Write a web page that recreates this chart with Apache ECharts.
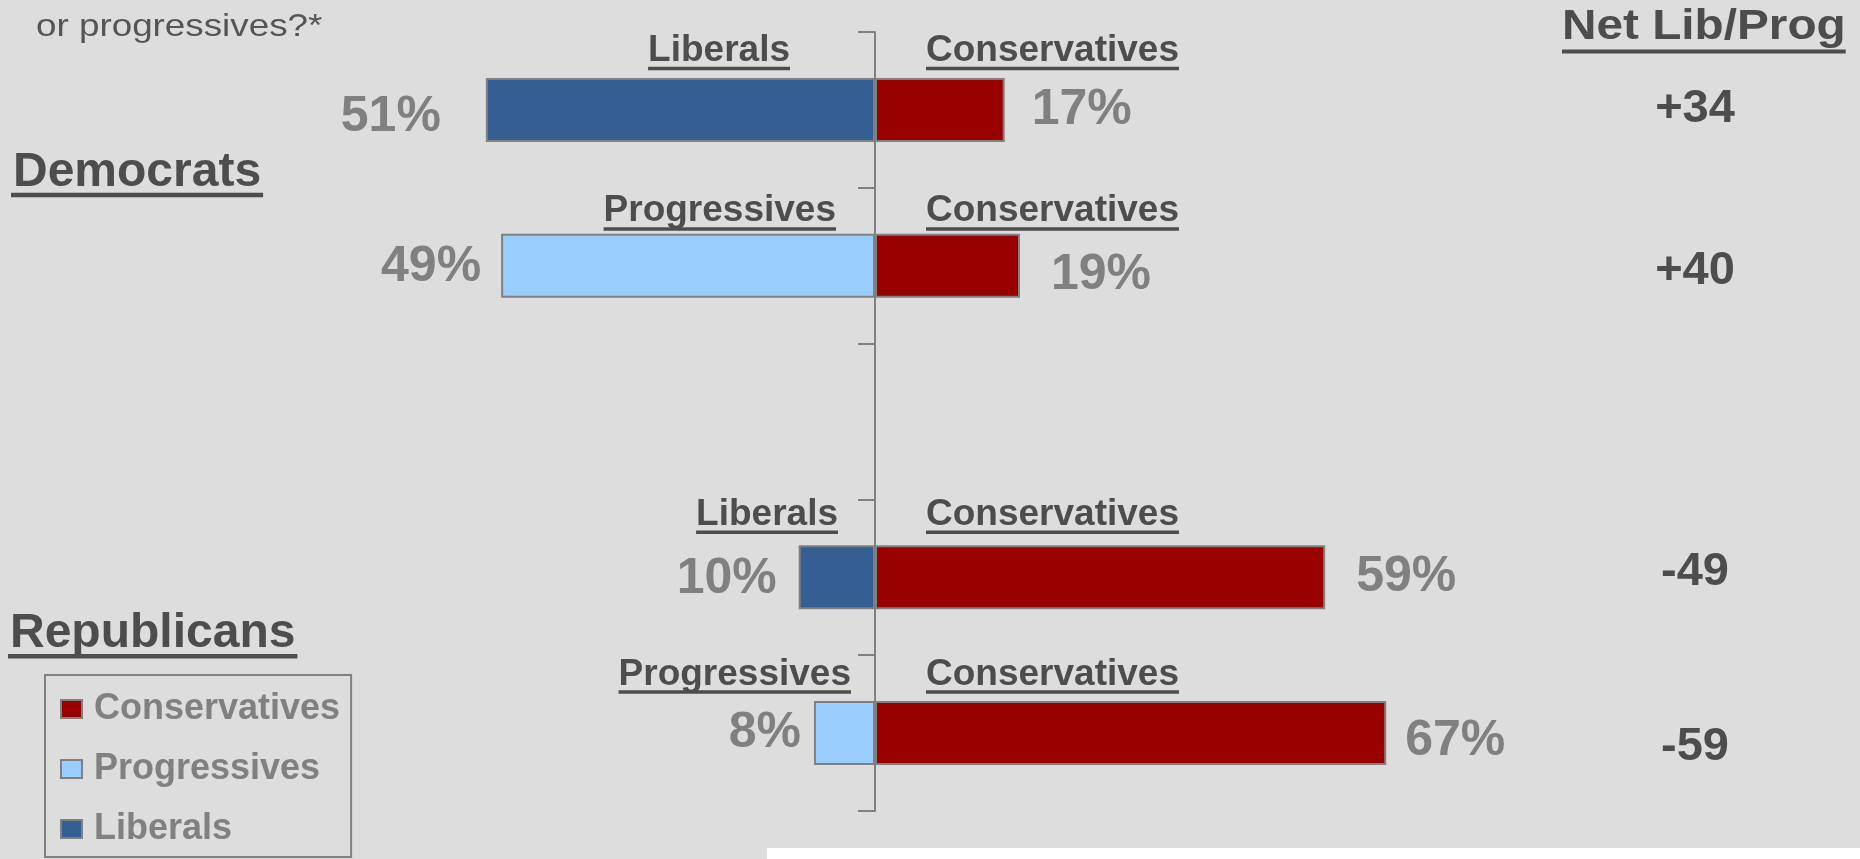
<!DOCTYPE html>
<html><head><meta charset="utf-8">
<script src="https://cdn.jsdelivr.net/npm/echarts@6/dist/echarts.min.js"></script>
<style>html,body{margin:0;padding:0;background:#dddddd;} #c{width:1860px;height:859px;}</style>
</head><body><div id="c"></div>
<script>
// ---- data ----
const categories = ['Democrats: Liberals', 'Democrats: Progressives', '', 'Republicans: Liberals', 'Republicans: Progressives'];
const liberals = [51, null, null, 10, null];
const progressives = [null, 49, null, null, 8];
const conservatives = [17, 19, null, 59, 67];
const netLabels = ['+34', '+40', '-49', '-59'];
const groupLabels = ['Democrats', 'Republicans'];
const leftHeaders = ['Liberals', 'Progressives', 'Liberals', 'Progressives'];
const rightHeader = 'Conservatives';
const netTitle = 'Net Lib/Prog';
const questionTail = 'or progressives?*';
const legendOrder = ['Conservatives', 'Progressives', 'Liberals'];

// ---- style / layout ----
const FONT = '"Liberation Sans", Arial, Helvetica, sans-serif';
const GRAY = '#808080', DARK = '#4d4d4d';
const layout = {
  headerY: [49, 209.5, 512.8, 672.6],
  leftHeaderRight: [790, 836, 838, 851],
  rightHeaderLeft: 926,
  netX: 1695, netY: [107, 268.5, 570, 745],
  groupY: [170.5, 631.7], groupX: [13, 10],
  // per-row label nudges: [distance, dy]
  leftLabel: [[45, 7], [20, 2], null, [22, 2], [13, 0]],
  rightLabel: [[27, 0], [31, 10], null, [31, 0], [19, 8]]
};

const chart = echarts.init(document.getElementById('c'));
const ctx = document.createElement('canvas').getContext('2d');
function textWidth(t, size, weight) { ctx.font = weight + ' ' + size + 'px ' + FONT; return ctx.measureText(t).width; }
function txt(text, x, capY, size, o) {
  o = o || {};
  const weight = o.weight || 'bold', sx = o.scaleX || 1, align = o.align || 'left', color = o.color || DARK;
  const els = [{
    type: 'text', x: x, y: capY + 0.048 * size, scaleX: sx, silent: true,
    style: { text: text, x: 0, y: 0, fill: color, font: weight + ' ' + size + 'px ' + FONT, align: align, verticalAlign: 'middle' }
  }];
  if (o.ul) {
    const w = textWidth(text, size, weight) * sx;
    let left = align === 'right' ? x - w : (align === 'center' ? x - w / 2 : x);
    const pad = o.ul.pad || 0;
    const base = capY + 0.358 * size;
    els.push({ type: 'rect', silent: true, shape: { x: left - pad, y: base + o.ul.off, width: w + 2 * pad, height: o.ul.h }, style: { fill: color } });
  }
  return els;
}

function items(arr, sign, nudges) {
  return arr.map((v, i) => {
    if (v == null) return null;
    const n = nudges[i] || [25, 0];
    return { value: sign * v, label: { distance: n[0], offset: [0, n[1]] } };
  });
}
const labelBase = { show: true, fontSize: 50, fontWeight: 'bold', color: GRAY, fontFamily: FONT };

const option = {
  backgroundColor: '#dddddd',
  animation: false,
  grid: { left: 112, right: 222, top: 32, bottom: 48 },
  xAxis: { type: 'value', min: -100, max: 100, show: false },
  yAxis: {
    type: 'category', inverse: true, data: categories,
    axisLine: { show: true, onZero: true, lineStyle: { color: GRAY, width: 2 } },
    axisTick: { show: true, length: 17, lineStyle: { color: GRAY, width: 2 } },
    axisLabel: { show: false }, splitLine: { show: false }
  },
  legend: {
    orient: 'vertical', left: 45, top: 675, data: legendOrder, icon: 'rect',
    itemWidth: 21, itemHeight: 18, itemGap: 24, padding: [16, 11, 10, 15],
    borderColor: GRAY, borderWidth: 2,
    textStyle: { fontSize: 36, fontWeight: 'bold', color: GRAY, fontFamily: FONT, padding: [0, 0, 0, 7] }
  },
  series: [
    { name: 'Liberals', type: 'bar', stack: 's', barWidth: 64, data: items(liberals, -1, layout.leftLabel),
      itemStyle: { color: '#355E95', borderColor: GRAY, borderWidth: 2 },
      label: Object.assign({}, labelBase, { position: 'left', formatter: p => Math.abs(p.value) + '%' }) },
    { name: 'Progressives', type: 'bar', stack: 's', barWidth: 64, data: items(progressives, -1, layout.leftLabel),
      itemStyle: { color: '#99CCFF', borderColor: GRAY, borderWidth: 2 },
      label: Object.assign({}, labelBase, { position: 'left', formatter: p => Math.abs(p.value) + '%' }) },
    { name: 'Conservatives', type: 'bar', stack: 's', barWidth: 64, data: items(conservatives, 1, layout.rightLabel),
      itemStyle: { color: '#990000', borderColor: GRAY, borderWidth: 2 },
      label: Object.assign({}, labelBase, { position: 'right', formatter: p => p.value + '%' }) }
  ]
};

let g = [];
g = g.concat(txt(questionTail, 36, 26, 32, { weight: 'normal', scaleX: 1.15, color: '#555555' }));
g = g.concat(txt(netTitle, 1562, 25, 43, { scaleX: 1.11, ul: { off: 9, h: 4 } }));
groupLabels.forEach((t, i) => { g = g.concat(txt(t, layout.groupX[i], layout.groupY[i], 48, { ul: { off: 5, h: 4.5, pad: 2 } })); });
leftHeaders.forEach((t, i) => {
  g = g.concat(txt(t, layout.leftHeaderRight[i], layout.headerY[i], 37, { align: 'right', ul: { off: 4.5, h: 3.5 } }));
  g = g.concat(txt(rightHeader, layout.rightHeaderLeft, layout.headerY[i], 37, { ul: { off: 4.5, h: 3.5 } }));
});
netLabels.forEach((t, i) => { g = g.concat(txt(t, layout.netX, layout.netY[i], 47, { align: 'center' })); });
g.push({ type: 'rect', silent: true, shape: { x: 767, y: 848, width: 1093, height: 11 }, style: { fill: '#ffffff' } });
option.graphic = { elements: g };

chart.setOption(option);
</script></body></html>
